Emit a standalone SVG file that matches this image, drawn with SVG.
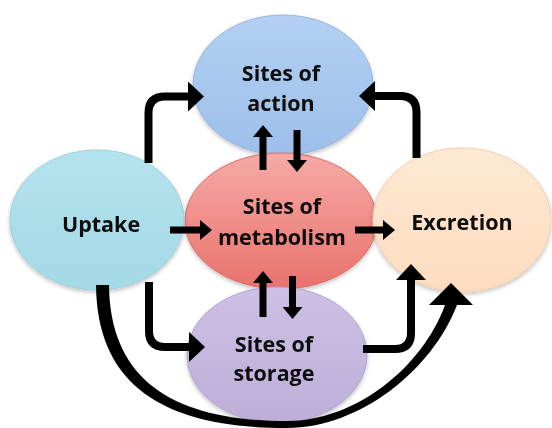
<svg xmlns="http://www.w3.org/2000/svg" width="552" height="428" viewBox="0 0 552 428">
<style>
.lbl{font-family:"Open Sans","Liberation Sans",sans-serif;font-weight:bold;font-size:21.5px;fill:#0d0d0d;text-anchor:middle}
.node{stroke-width:1}
.elbow{fill:none;stroke:#000;stroke-width:8;marker-end:url(#big)}
.straight{fill:none;stroke:#000;stroke-width:7;marker-end:url(#small)}
</style>
<defs>
<marker id="big" markerUnits="userSpaceOnUse" markerWidth="16" markerHeight="30" viewBox="0 0 16 30" refX="0" refY="15" orient="auto"><path d="M0,0 L16,15 L0,30 Z" fill="#000"/></marker>
<marker id="small" markerUnits="userSpaceOnUse" markerWidth="12" markerHeight="20" viewBox="0 0 12 20" refX="0" refY="10" orient="auto"><path d="M0,0 L12,10 L0,20 Z" fill="#000"/></marker>
<linearGradient id="gAction" x1="0" y1="0" x2="0" y2="1"><stop offset="0" stop-color="#b3d0f3"/><stop offset="1" stop-color="#9dbfea"/></linearGradient>
<linearGradient id="gUptake" x1="0" y1="0" x2="0" y2="1"><stop offset="0" stop-color="#b4e3ee"/><stop offset="1" stop-color="#a4d9e6"/></linearGradient>
<linearGradient id="gMetab" x1="0" y1="0" x2="0" y2="1"><stop offset="0" stop-color="#f6aaa6"/><stop offset="1" stop-color="#e9726d"/></linearGradient>
<linearGradient id="gExcr" x1="0" y1="0" x2="0" y2="1"><stop offset="0" stop-color="#fee9d3"/><stop offset="1" stop-color="#fcdcbf"/></linearGradient>
<linearGradient id="gStor" x1="0" y1="0" x2="0" y2="1"><stop offset="0" stop-color="#cec0e4"/><stop offset="1" stop-color="#bdaed8"/></linearGradient>
<filter id="sh" x="-10%" y="-10%" width="120%" height="125%"><feGaussianBlur in="SourceAlpha" stdDeviation="2"/><feOffset dy="2"/><feComponentTransfer><feFuncA type="linear" slope="0.25"/></feComponentTransfer><feMerge><feMergeNode/><feMergeNode in="SourceGraphic"/></feMerge></filter>
</defs>

<g id="node-action" filter="url(#sh)">
<ellipse cx="283" cy="85" rx="90" ry="70" fill="url(#gAction)" stroke="#95b4e0" class="node"/>
<text class="lbl" x="281" y="81">Sites of</text>
<text class="lbl" x="281" y="111">action</text>
</g>
<g id="node-metabolism" filter="url(#sh)">
<ellipse cx="281" cy="221" rx="96" ry="68" fill="url(#gMetab)" stroke="#e06a66" class="node"/>
<text class="lbl" x="282" y="214">Sites of</text>
<text class="lbl" x="282" y="245">metabolism</text>
</g>
<g id="node-uptake" filter="url(#sh)">
<ellipse cx="97" cy="220" rx="87" ry="70" fill="url(#gUptake)" stroke="#9ccfdc" class="node"/>
<text class="lbl" x="101" y="232">Uptake</text>
</g>
<g id="node-excretion" filter="url(#sh)">
<ellipse cx="462" cy="220" rx="89" ry="72" fill="url(#gExcr)" stroke="#f0cfae" class="node"/>
<text class="lbl" x="462" y="230">Excretion</text>
</g>
<g id="node-storage" filter="url(#sh)">
<ellipse cx="277" cy="355" rx="90" ry="68" fill="url(#gStor)" stroke="#b3a3cf" class="node"/>
<text class="lbl" x="274" y="352">Sites of</text>
<text class="lbl" x="274" y="381">storage</text>
</g>

<g id="connectors">
<path class="elbow" d="M148.5,163 V113 Q148.5,96.5 165,96.5 H188"/>
<path class="elbow" d="M416.5,158 V112 Q416.5,96 400,96 H375"/>
<path class="straight" d="M263,170 V137"/>
<path class="straight" d="M297,130 V160"/>
<path class="straight" d="M170,230 H200"/>
<path class="straight" d="M355,230 H383"/>
<path class="straight" d="M263,317 V283"/>
<path class="straight" d="M292.5,276 V307"/>
<path class="elbow" d="M149,282 V331 Q149,347 165,347 H189"/>
<path class="elbow" d="M363,349 H395 Q411,349 411,333 V280"/>
<path d="M96,285 C97,390 170,428 287,428 C360,428 432,370 457,305 L473,305 L451,283 L429,305 L445,305 C422,368 355,421 287,421 C180,421 110,385 109,285 Z" fill="#000"/>
</g>
</svg>
